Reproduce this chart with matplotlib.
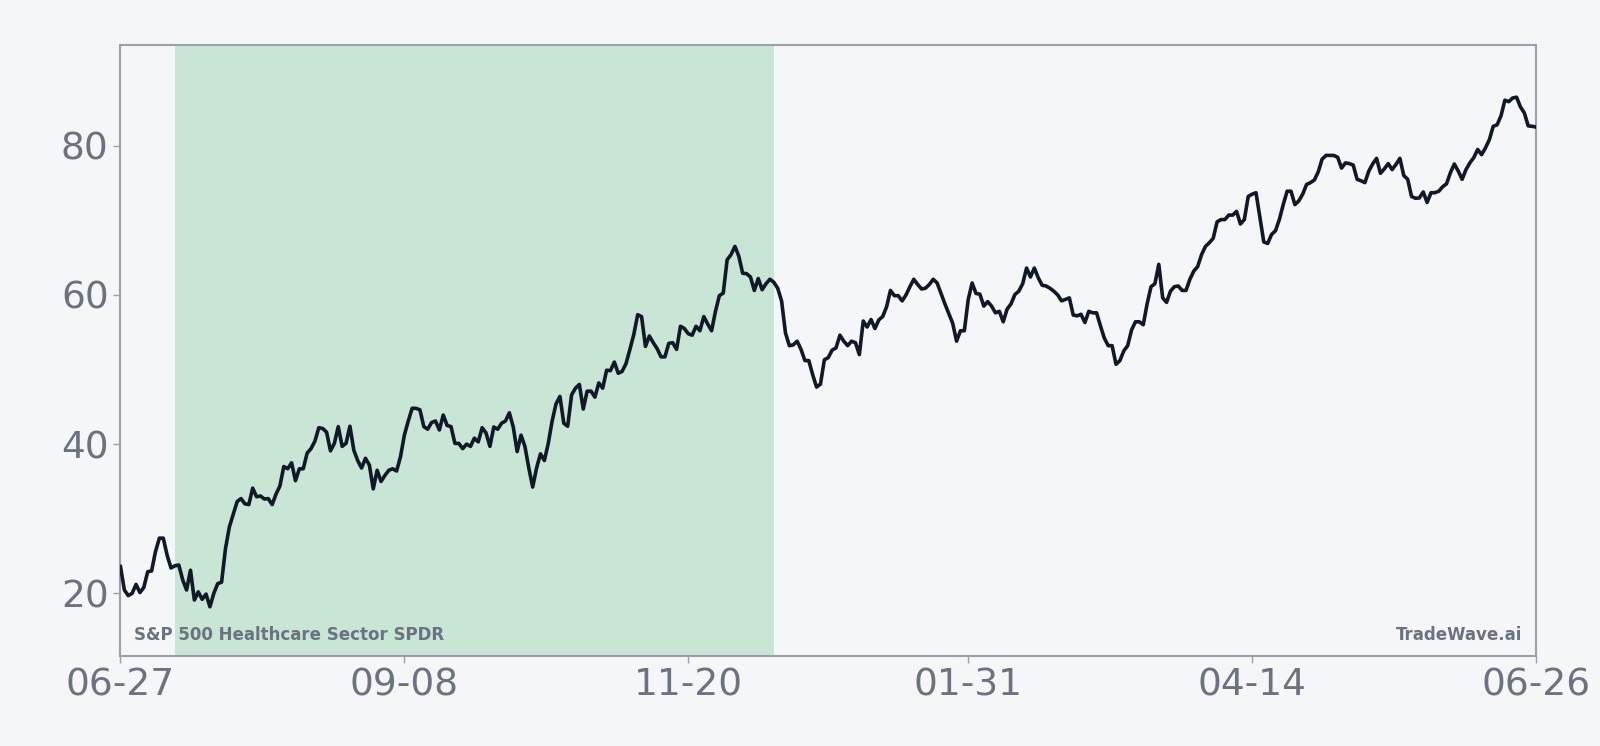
import numpy as np
import pandas as pd
import matplotlib
matplotlib.use("Agg")
import matplotlib.pyplot as plt

# ---- data ----
start_date = "2024-06-27"
end_date = "2025-06-26"
shade_start = "2024-07-11"
shade_end = "2024-12-12"
title_text = "S&P 500 Healthcare Sector SPDR"
brand_text = "TradeWave.ai"
y_ticks = [20, 40, 60, 80]

values = [
    23.6, 20.45, 19.7, 20.0, 21.2, 20.1, 20.8, 22.9, 23.0, 25.6,
    27.4, 27.4, 25.1, 23.4, 23.7, 23.8, 21.8, 20.45, 23.1, 19.1,
    20.2, 19.2, 19.9, 18.2, 20.0, 21.3, 21.5, 26.0, 28.9, 30.6,
    32.3, 32.7, 32.0, 31.9, 34.1, 32.95, 33.05, 32.65, 32.7, 31.9,
    33.3, 34.4, 37.0, 36.7, 37.5, 35.1, 36.7, 36.7, 38.8, 39.4,
    40.4, 42.2, 42.1, 41.6, 39.1, 40.1, 42.35, 39.7, 40.1, 42.4,
    39.2, 37.8, 36.8, 38.1, 37.2, 34.0, 36.5, 35.0, 35.8, 36.5,
    36.7, 36.4, 38.3, 41.2, 43.1, 44.8, 44.8, 44.6, 42.35, 42.0,
    42.9, 43.1, 41.9, 43.9, 42.5, 42.35, 40.1, 40.1, 39.4, 40.0,
    39.7, 40.8, 40.3, 42.2, 41.5, 39.7, 42.3, 42.0, 42.8, 43.1,
    44.2, 42.3, 39.0, 41.2, 39.7, 36.8, 34.25, 36.8, 38.7, 37.8,
    40.1, 43.1, 45.4, 46.4, 42.8, 42.4, 46.6, 47.5, 48.0, 44.7,
    47.1, 47.1, 46.3, 48.2, 47.5, 49.9, 49.85, 51.0, 49.5, 49.75,
    50.8, 52.7, 54.7, 57.35, 57.1, 53.1, 54.5, 53.6, 52.8, 51.7,
    51.7, 53.5, 53.6, 52.7, 55.8, 55.5, 54.8, 54.6, 55.8, 55.2,
    57.1, 56.1, 55.2, 57.8, 59.9, 60.25, 64.7, 65.4, 66.5, 65.2,
    62.9, 62.85, 62.4, 60.6, 62.2, 60.7, 61.5, 62.1, 61.7, 60.9,
    59.2, 54.9, 53.2, 53.3, 53.8, 52.7, 51.2, 51.2, 49.3, 47.65,
    48.05, 51.3, 51.6, 52.6, 52.9, 54.6, 53.8, 53.2, 53.8, 53.6,
    52.0, 56.5, 55.7, 56.7, 55.5, 56.65, 57.1, 58.4, 60.6, 59.9,
    59.9, 59.2, 60.0, 61.1, 62.1, 61.4, 60.8, 60.9, 61.4, 62.1,
    61.6, 60.2, 58.8, 57.5, 56.2, 53.8, 55.2, 55.2, 59.4, 61.6,
    60.2, 60.1, 58.5, 59.1, 58.5, 57.6, 57.8, 56.4, 58.1, 58.8,
    60.05, 60.5, 61.5, 63.6, 62.4, 63.6, 62.3, 61.3, 61.2, 60.9,
    60.5, 60.0, 59.2, 59.4, 59.6, 57.3, 57.2, 57.4, 56.3, 57.8,
    57.6, 57.6, 55.85, 54.2, 53.2, 53.2, 50.7, 51.2, 52.5, 53.2,
    55.3, 56.4, 56.4, 56.0, 58.8, 61.1, 61.5, 64.1, 59.6, 59.0,
    60.5, 61.1, 61.2, 60.6, 60.6, 62.1, 63.2, 63.8, 65.4, 66.5,
    67.0, 67.6, 69.8, 70.1, 70.1, 70.7, 70.7, 71.2, 69.5, 70.1,
    73.2, 73.5, 73.7, 70.4, 67.1, 66.9, 68.1, 68.6, 70.1, 72.1,
    73.9, 73.9, 72.1, 72.6, 73.5, 74.8, 75.05, 75.4, 76.5, 78.2,
    78.7, 78.7, 78.7, 78.45, 77.0, 77.7, 77.6, 77.4, 75.5, 75.3,
    75.05, 76.6, 77.55, 78.3, 76.3, 76.9, 77.6, 76.8, 77.5, 78.3,
    76.0, 75.5, 73.2, 72.95, 73.0, 73.8, 72.4, 73.7, 73.7, 73.9,
    74.5, 74.9, 76.4, 77.55, 76.6, 75.5, 76.8, 77.7, 78.4, 79.5,
    78.8, 79.7, 80.8, 82.6, 82.8, 84.0, 86.1, 85.9, 86.4, 86.5,
    85.2, 84.4, 82.65, 82.6, 82.5,
]

dates = pd.date_range(start_date, end_date, freq="D")
n = min(len(dates), len(values))
dates = dates[:n]
values = np.array(values[:n])

# ---- style ----
bg = "#f5f6f8"
text_gray = "#6b7280"
spine_gray = "#9ca0ab"
line_color = "#111827"
shade_color = "#c8e5d5"

fig = plt.figure(figsize=(16, 7.46), dpi=100, facecolor=bg)
ax = fig.add_axes([0.0753, 0.1206, 0.8847, 0.8191])
ax.set_facecolor(bg)

ax.axvspan(pd.Timestamp(shade_start), pd.Timestamp(shade_end),
           color=shade_color, lw=0, zorder=0)
ax.plot(dates, values, color=line_color, lw=2.6, solid_joinstyle="round", zorder=3)

ax.set_xlim(dates[0], dates[-1])
ax.set_ylim(11.6, 93.5)

idx = np.round(np.linspace(0, n - 1, 6)).astype(int)
tick_dates = dates[idx]
ax.set_xticks(tick_dates)
ax.set_xticklabels([d.strftime("%m-%d") for d in tick_dates])
ax.set_yticks(y_ticks)
ax.set_yticklabels([str(v) for v in y_ticks])

ax.tick_params(axis="both", colors=spine_gray, labelcolor=text_gray,
               labelsize=27, length=5, width=1)
for s in ax.spines.values():
    s.set_color(spine_gray)
    s.set_linewidth(1.5)

ax.text(0.0095, 0.02, title_text, transform=ax.transAxes, ha="left", va="bottom",
        fontsize=12, fontweight="bold", color=text_gray)
ax.text(0.99, 0.02, brand_text, transform=ax.transAxes, ha="right", va="bottom",
        fontsize=12, fontweight="bold", color=text_gray)

fig.savefig("out.png", dpi=100, facecolor=bg)
